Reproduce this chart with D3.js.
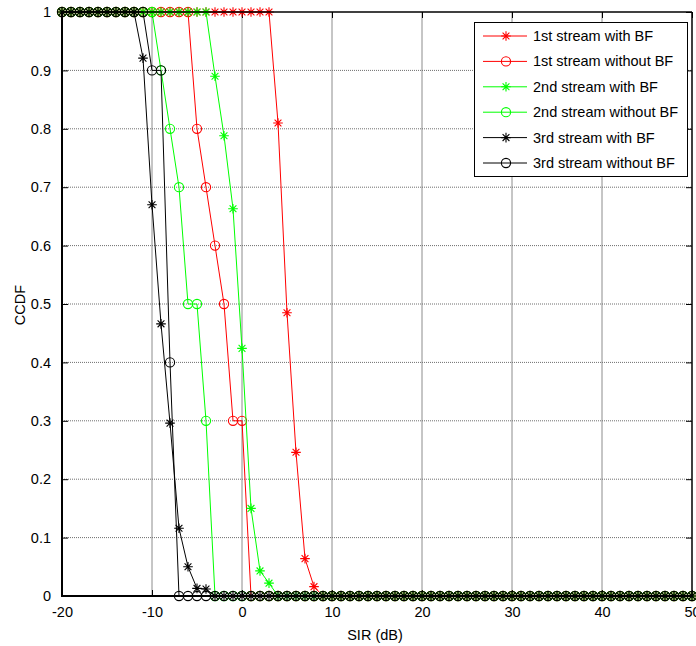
<!DOCTYPE html>
<html>
<head>
<meta charset="utf-8">
<script src="https://cdn.jsdelivr.net/npm/d3@7"></script>
<style>
  html, body { margin: 0; padding: 0; background: #fff; }
  svg { display: block; }
  text { font-family: "Liberation Sans", Arial, sans-serif; fill: #000; }
</style>
</head>
<body>
<svg id="chart" width="696" height="646"></svg>
<script>
// SIR (dB) sample points: -20 .. 50 in 1 dB steps
const sir = [-20,-19,-18,-17,-16,-15,-14,-13,-12,-11,-10,-9,-8,-7,-6,-5,-4,-3,-2,-1,
  0,1,2,3,4,5,6,7,8,9,10,11,12,13,14,15,16,17,18,19,
  20,21,22,23,24,25,26,27,28,29,30,31,32,33,34,35,36,37,38,39,
  40,41,42,43,44,45,46,47,48,49,50];

const s1WithBF = [1,1,1,1,1,1,1,1,1,1,1,1,1,1,1,1,1,1,1,1,
  1,1,1,1,0.81,0.485,0.246,0.064,0.016,0,0,0,0,0,0,0,0,0,0,0,
  0,0,0,0,0,0,0,0,0,0,0,0,0,0,0,0,0,0,0,0,
  0,0,0,0,0,0,0,0,0,0,0];
const s1WithoutBF = [1,1,1,1,1,1,1,1,1,1,1,1,1,1,1,0.8,0.7,0.6,0.5,0.3,
  0.3,0,0,0,0,0,0,0,0,0,0,0,0,0,0,0,0,0,0,0,
  0,0,0,0,0,0,0,0,0,0,0,0,0,0,0,0,0,0,0,0,
  0,0,0,0,0,0,0,0,0,0,0];
const s2WithBF = [1,1,1,1,1,1,1,1,1,1,1,1,1,1,1,1,1,0.89,0.788,0.663,
  0.424,0.15,0.043,0.022,0,0,0,0,0,0,0,0,0,0,0,0,0,0,0,0,
  0,0,0,0,0,0,0,0,0,0,0,0,0,0,0,0,0,0,0,0,
  0,0,0,0,0,0,0,0,0,0,0];
const s2WithoutBF = [1,1,1,1,1,1,1,1,1,1,1,0.9,0.8,0.7,0.5,0.5,0.3,0,0,0,
  0,0,0,0,0,0,0,0,0,0,0,0,0,0,0,0,0,0,0,0,
  0,0,0,0,0,0,0,0,0,0,0,0,0,0,0,0,0,0,0,0,
  0,0,0,0,0,0,0,0,0,0,0];
const s3WithBF = [1,1,1,1,1,1,1,1,1,0.921,0.67,0.466,0.296,0.116,0.05,0.013,0.012,0,0,0,
  0,0,0,0,0,0,0,0,0,0,0,0,0,0,0,0,0,0,0,0,
  0,0,0,0,0,0,0,0,0,0,0,0,0,0,0,0,0,0,0,0,
  0,0,0,0,0,0,0,0,0,0,0];
const s3WithoutBF = [1,1,1,1,1,1,1,1,1,1,0.9,0.9,0.4,0,0,0,0,0,0,0,
  0,0,0,0,0,0,0,0,0,0,0,0,0,0,0,0,0,0,0,0,
  0,0,0,0,0,0,0,0,0,0,0,0,0,0,0,0,0,0,0,0,
  0,0,0,0,0,0,0,0,0,0,0];

const seriesNames = ["1st stream with BF","1st stream without BF","2nd stream with BF",
  "2nd stream without BF","3rd stream with BF","3rd stream without BF"];
const seriesValues = [s1WithBF, s1WithoutBF, s2WithBF, s2WithoutBF, s3WithBF, s3WithoutBF];
const seriesColors = ["#ff0000","#ff0000","#00ff00","#00ff00","#000000","#000000"];
const seriesMarkers = ["star","circle","star","circle","star","circle"];

const xTicks = [-20,-10,0,10,20,30,40,50];
const xTickLabels = ["-20","-10","0","10","20","30","40","50"];
const yTicks = [0,0.1,0.2,0.3,0.4,0.5,0.6,0.7,0.8,0.9,1];
const yTickLabels = ["0","0.1","0.2","0.3","0.4","0.5","0.6","0.7","0.8","0.9","1"];
const xLabel = "SIR (dB)";
const yLabel = "CCDF";

const svg = d3.select("#chart");
const L = 62, R = 692, T = 12, B = 596;
const x = d3.scaleLinear().domain([-20, 50]).range([L, R]);
const y = d3.scaleLinear().domain([0, 1]).range([B, T]);
const FS = "14.5px";

// grid
const grid = svg.append("g");
grid.selectAll("line.v").data(xTicks.filter(d => d > -20 && d < 50)).enter().append("line")
  .attr("x1", d => x(d)).attr("x2", d => x(d)).attr("y1", T).attr("y2", B)
  .attr("stroke", "#8c8c8c").attr("stroke-width", 1);
grid.selectAll("line.h").data(yTicks.filter(d => d > 0 && d < 1)).enter().append("line")
  .attr("x1", L).attr("x2", R).attr("y1", d => y(d)).attr("y2", d => y(d))
  .attr("stroke", "#6e6e6e").attr("stroke-width", 1).attr("stroke-dasharray", "1,1");

// axes via d3 axis (ticks inward, labels)
const xAxis = d3.axisBottom(x).tickValues(xTicks).tickSize(-6).tickPadding(11)
  .tickFormat((d, i) => xTickLabels[i]);
const gx = svg.append("g").attr("transform", `translate(0,${B})`).call(xAxis);
const yAxis = d3.axisLeft(y).tickValues(yTicks).tickSize(-6).tickPadding(11)
  .tickFormat((d, i) => yTickLabels[i]);
const gy = svg.append("g").attr("transform", `translate(${L},0)`).call(yAxis);
const xTop = d3.axisTop(x).tickValues(xTicks).tickSize(-6).tickFormat("");
const gxt = svg.append("g").attr("transform", `translate(0,${T})`).call(xTop);
const yRight = d3.axisRight(y).tickValues(yTicks).tickSize(-6).tickFormat("");
const gyr = svg.append("g").attr("transform", `translate(${R},0)`).call(yRight);
[gx, gy, gxt, gyr].forEach(g => {
  g.select(".domain").remove();
  g.selectAll(".tick line").attr("stroke", "#000").attr("stroke-width", 1);
  g.selectAll("text").style("font-size", FS).style("font-family", "'Liberation Sans', Arial, sans-serif").attr("fill", "#000");
});

// series
const line = d3.line().x((d, i) => x(sir[i])).y(d => y(d));
function drawMarker(g, type, color) {
  if (type === "circle") {
    g.append("circle").attr("r", 4.6).attr("fill", "none").attr("stroke", color).attr("stroke-width", 1.1);
  } else {
    const a = 4.8, b = 3.4;
    g.append("path").attr("d", `M${-a},0H${a}M0,${-a}V${a}M${-b},${-b}L${b},${b}M${-b},${b}L${b},${-b}`)
      .attr("stroke", color).attr("stroke-width", 1.1).attr("fill", "none");
  }
}
seriesValues.forEach((vals, k) => {
  const g = svg.append("g");
  g.append("path").datum(vals).attr("d", line).attr("fill", "none")
    .attr("stroke", seriesColors[k]).attr("stroke-width", 1);
  vals.forEach((v, i) => {
    const m = g.append("g").attr("transform", `translate(${x(sir[i])},${y(v)})`);
    drawMarker(m, seriesMarkers[k], seriesColors[k]);
  });
});

// frame
svg.append("line").attr("x1", L).attr("x2", L).attr("y1", T).attr("y2", B + 1).attr("stroke", "#000").attr("stroke-width", 2);
svg.append("line").attr("x1", L - 1).attr("x2", R).attr("y1", B).attr("y2", B).attr("stroke", "#000").attr("stroke-width", 2);
svg.append("line").attr("x1", L).attr("x2", R).attr("y1", T).attr("y2", T).attr("stroke", "#000").attr("stroke-width", 1.5);
svg.append("line").attr("x1", R).attr("x2", R).attr("y1", T).attr("y2", B).attr("stroke", "#000").attr("stroke-width", 1.5);

// axis labels
svg.append("text").attr("x", (L + R) / 2 - 2).attr("y", 640).attr("text-anchor", "middle")
  .style("font-size", FS).text(xLabel);
svg.append("text").attr("transform", "translate(25,305) rotate(-90)").attr("text-anchor", "middle")
  .style("font-size", FS).text(yLabel);

// legend
const lg = svg.append("g");
lg.append("rect").attr("x", 474.5).attr("y", 22.5).attr("width", 213).attr("height", 154)
  .attr("fill", "#fff").attr("stroke", "#000").attr("stroke-width", 1);
seriesNames.forEach((name, k) => {
  const cy = 36 + k * 25.4;
  lg.append("line").attr("x1", 483).attr("x2", 527).attr("y1", cy).attr("y2", cy)
    .attr("stroke", seriesColors[k]).attr("stroke-width", 1);
  const m = lg.append("g").attr("transform", `translate(506,${cy})`);
  drawMarker(m, seriesMarkers[k], seriesColors[k]);
  lg.append("text").attr("x", 533).attr("y", cy + 5).style("font-size", FS).text(name);
});
</script>
</body>
</html>
